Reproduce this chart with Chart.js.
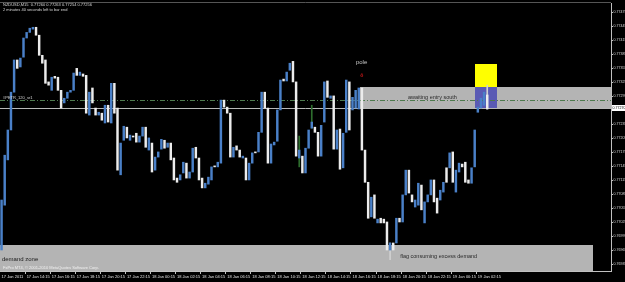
<!DOCTYPE html>
<html><head><meta charset="utf-8">
<script src="https://cdn.jsdelivr.net/npm/chart.js@4.4.1/dist/chart.umd.min.js"></script>
<style>html,body{margin:0;padding:0;background:#000;overflow:hidden}#wrap{width:625px;height:282px;position:relative}</style>
</head><body><div id="wrap"><canvas id="c" width="625" height="282"></canvas></div>
<script>
const timeLabels = ["17 Jan 2011","17 Jan 14:15","17 Jan 16:15","17 Jan 18:15","17 Jan 20:15","17 Jan 22:15","18 Jan 00:15","18 Jan 02:15","18 Jan 04:15","18 Jan 06:15","18 Jan 08:15","18 Jan 10:15","18 Jan 12:15","18 Jan 14:15","18 Jan 16:15","18 Jan 18:15","18 Jan 20:15","18 Jan 22:15","19 Jan 00:15","19 Jan 02:15"];
const priceTicks = [0.77475,0.77445,0.77415,0.77385,0.77355,0.77325,0.77295,0.77235,0.77205,0.77175,0.77145,0.77115,0.77085,0.77055,0.77025,0.76995,0.76965,0.76935];
const open = [
0.76966,0.77062,0.77159,0.77223,0.77304,0.77373,0.77358,0.77379,0.77420,0.77432,
0.77439,0.77443,0.77426,0.77383,0.77373,0.77326,0.77308,0.77338,0.77336,0.77308,
0.77281,0.77291,0.77304,0.77308,0.77355,0.77340,0.77343,0.77340,0.77255,0.77313,
0.77270,0.77255,0.77259,0.77238,0.77276,0.77238,0.77323,0.77270,0.77127,0.77201,
0.77229,0.77201,0.77210,0.77216,0.77197,0.77210,0.77229,0.77180,0.77195,0.77137,
0.77165,0.77182,0.77201,0.77186,0.77195,0.77163,0.77120,0.77116,0.77131,0.77152,
0.77120,0.77133,0.77186,0.77163,0.77120,0.77099,0.77107,0.77116,0.77146,0.77144,
0.77152,0.77287,0.77272,0.77259,0.77165,0.77189,0.77180,0.77163,0.77163,0.77116,
0.77152,0.77176,0.77176,0.77218,0.77304,0.77270,0.77152,0.77191,0.77199,0.77266,
0.77332,0.77328,0.77351,0.77370,0.77326,0.77163,0.77167,0.77131,0.77184,0.77227,
0.77229,0.77218,0.77167,0.77240,0.77328,0.77291,0.77296,0.77182,0.77225,0.77142,
0.77218,0.77326,0.77266,0.77270,0.77268,0.77313,0.77180,0.77111,0.77037,0.77084,
0.77024,0.77034,0.77032,0.77026,0.76966,0.76981,0.76981,0.77034,0.77026,0.77084,
0.77137,0.77084,0.77058,0.77062,0.77105,0.77024,0.77069,0.77084,0.77116,0.77077,
0.77073,0.77090,0.77142,0.77142,0.77176,0.77090,0.77133,0.77150,0.77154,0.77116,
0.77109,0.77144,0.77261,0.77270,0.77276,0.77298];
const close = [
0.77073,0.77169,0.77223,0.77304,0.77373,0.77355,0.77377,0.77420,0.77432,0.77441,
0.77443,0.77426,0.77383,0.77366,0.77323,0.77319,0.77336,0.77334,0.77308,0.77270,
0.77291,0.77304,0.77308,0.77345,0.77340,0.77347,0.77338,0.77259,0.77304,0.77281,
0.77255,0.77261,0.77244,0.77276,0.77240,0.77323,0.77259,0.77137,0.77195,0.77231,
0.77206,0.77212,0.77208,0.77197,0.77210,0.77229,0.77186,0.77206,0.77133,0.77165,
0.77176,0.77203,0.77184,0.77195,0.77159,0.77116,0.77111,0.77127,0.77154,0.77120,
0.77133,0.77184,0.77163,0.77116,0.77099,0.77109,0.77122,0.77144,0.77144,0.77154,
0.77287,0.77272,0.77259,0.77165,0.77186,0.77180,0.77165,0.77167,0.77116,0.77152,
0.77174,0.77174,0.77218,0.77304,0.77270,0.77152,0.77193,0.77197,0.77266,0.77330,
0.77328,0.77347,0.77366,0.77326,0.77167,0.77180,0.77131,0.77184,0.77223,0.77240,
0.77218,0.77167,0.77233,0.77326,0.77293,0.77296,0.77182,0.77223,0.77139,0.77216,
0.77330,0.77223,0.77293,0.77308,0.77313,0.77180,0.77111,0.77034,0.77079,0.77034,
0.77032,0.77024,0.77024,0.76966,0.76981,0.76966,0.77034,0.77026,0.77084,0.77137,
0.77088,0.77069,0.77073,0.77109,0.77052,0.77069,0.77084,0.77116,0.77069,0.77045,
0.77094,0.77111,0.77111,0.77174,0.77111,0.77137,0.77152,0.77144,0.77111,0.77109,
0.77142,0.77223,0.77272,0.77291,0.77304,0.77268];
// visible wicks: [bar index, high, low]
const wicks = [[95,0.77210,0.77144],[99,0.77276,0.77227],[124,0.76981,0.76945],[155,0.77319,0.77268]];
const greenWickBars = [95, 99];
const bidPrice = 0.77270;
const levelPrice = 0.77287;
const TOTAL_SLOTS = 195;
const LABEL_EVERY = 8;
const Y_MIN = 0.76921, Y_MAX = 0.77495;
const zones = [
  {from:-0.6, to:188.8, top:0.76977, bottom:0.76900, color:'#b4b4b4'},
  {from:114.4, to:200, top:0.77315, bottom:0.77268, color:'#b4b4b4'},
  {from:151.1, to:158.1, top:0.77364, bottom:0.77315, color:'#ffff00'},
  {from:151.1, to:158.1, top:0.77315, bottom:0.77268, color:'#5a5ab4'}
];
const notes = [
  {text:'pole', at:113.1, price:0.77368, color:'#c8c8c8', size:6},
  {text:'awaiting entry south', at:129.7, price:0.77293, color:'#2a2a2a', size:5.5},
  {text:'flag consuming excess demand', at:127.2, price:0.76953, color:'#2a2a2a', size:5.5},
  {text:'demand zone', at:0.1, price:0.76947, color:'#1a1a1a', size:6}
];

const cats = [];
for (let i = 0; i < TOTAL_SLOTS; i++) {
  const k = i / LABEL_EVERY;
  cats.push(i % LABEL_EVERY === 0 && k < timeLabels.length ? timeLabels[k] : '');
}
const BLUE = '#4a80c8', WHITE = '#ececec';
const bodies = open.map((o, i) => [o, close[i]]);
const bodyColors = open.map((o, i) => close[i] >= o ? BLUE : WHITE);
const wickData = open.map(() => null);
const wickColors = open.map(() => '#d0d0d0');
wicks.forEach(([i, h, l]) => { wickData[i] = [l, h]; });
greenWickBars.forEach(i => { wickColors[i] = '#2e6e2e'; });

const FONT = 'Liberation Sans, Arial, sans-serif';
const objPlugin = {
  id: 'mt4obj',
  beforeDraw(chart) {
    const {ctx} = chart;
    ctx.save();
    ctx.fillStyle = '#000';
    ctx.fillRect(0, 0, chart.width, chart.height);
    ctx.restore();
  },
  beforeDatasetsDraw(chart) {
    const {ctx, chartArea: a, scales: {x, y}} = chart;
    ctx.save();
    ctx.beginPath(); ctx.rect(a.left, a.top, a.right - a.left, a.bottom - a.top); ctx.clip();
    zones.forEach(z => {
      const x0 = Math.max(a.left, x.getPixelForValue(z.from));
      const x1 = Math.min(a.right, x.getPixelForValue(z.to));
      const y0 = y.getPixelForValue(z.top), y1 = Math.min(a.bottom, y.getPixelForValue(z.bottom));
      ctx.fillStyle = z.color;
      ctx.fillRect(Math.round(x0), Math.round(y0), Math.round(x1 - x0), Math.round(y1 - y0));
    });
    const yl = Math.round(y.getPixelForValue(levelPrice)) + 0.5;
    ctx.strokeStyle = '#4e7a4e'; ctx.lineWidth = 1; ctx.setLineDash([5, 2, 1, 2]);
    ctx.beginPath(); ctx.moveTo(a.left, yl); ctx.lineTo(a.right, yl); ctx.stroke();
    ctx.setLineDash([]);
    const yb = Math.round(y.getPixelForValue(bidPrice)) + 0.5;
    ctx.strokeStyle = '#b8b8b8';
    ctx.beginPath(); ctx.moveTo(a.left, yb); ctx.lineTo(a.right, yb); ctx.stroke();
    ctx.restore();
  },
  afterDatasetsDraw(chart) {
    const {ctx, chartArea: a, scales: {x, y}} = chart;
    ctx.save();
    ctx.textBaseline = 'middle';
    notes.forEach(n => {
      ctx.font = n.size + 'px ' + FONT;
      ctx.fillStyle = n.color;
      ctx.fillText(n.text, x.getPixelForValue(n.at), y.getPixelForValue(n.price));
    });
    ctx.fillStyle = '#d01818';
    ctx.font = 'bold 5px ' + FONT;
    ctx.fillText('ô', x.getPixelForValue(114.5), y.getPixelForValue(0.77340));
    ctx.font = '4px ' + FONT;
    ctx.fillStyle = '#d8d8d8';
    ctx.textBaseline = 'top';
    ctx.fillText('NZDUSD,M15  0.77260 0.77263 0.77254 0.77256', 3, 3);
    ctx.fillText('2 minutes 40 seconds left to bar end', 3, 8);
    ctx.textBaseline = 'middle';
    ctx.fillText('#PETR_120_sr1', 3, y.getPixelForValue(levelPrice) - 2);
    ctx.fillStyle = '#f0f0f0';
    ctx.fillText('FxPro MT4, © 2001-2010 MetaQuotes Software Corp.', 3, a.bottom - 3);
    ctx.strokeStyle = '#555'; ctx.lineWidth = 1;
    ctx.beginPath(); ctx.moveTo(a.left, a.top - 0.5); ctx.lineTo(a.right, a.top - 0.5); ctx.stroke();
    const yb = y.getPixelForValue(bidPrice);
    ctx.fillStyle = '#ffffff';
    ctx.fillRect(a.right + 1, Math.round(yb) - 3, 14, 6);
    ctx.fillStyle = '#000';
    ctx.font = '3.6px ' + FONT;
    ctx.fillText(bidPrice.toFixed(5), a.right + 1.5, yb);
    ctx.restore();
  }
};

new Chart(document.getElementById('c'), {
  type: 'bar',
  data: {
    labels: cats,
    datasets: [{
      data: bodies,
      backgroundColor: bodyColors,
      borderWidth: 0,
      barThickness: 1.8,
      minBarLength: 1,
      grouped: false
    }, {
      data: wickData,
      backgroundColor: wickColors,
      borderWidth: 0,
      barThickness: 1,
      grouped: false
    }]
  },
  options: {
    responsive: false,
    devicePixelRatio: 1,
    animation: false,
    layout: {padding: {top: 3, left: 0, right: 0, bottom: 0}},
    plugins: {legend: {display: false}, tooltip: {enabled: false}},
    scales: {
      x: {
        type: 'category',
        offset: true,
        afterFit: s => { s.height = 11; },
        grid: {drawOnChartArea: false, drawTicks: true, tickLength: 3,
               tickColor: c => (c.tick && c.tick.label) ? '#c0c0c0' : 'rgba(0,0,0,0)'},
        border: {display: true, color: '#c0c0c0'},
        ticks: {autoSkip: false, maxRotation: 0, minRotation: 0, align: 'start', padding: 0,
                color: '#e0e0e0', font: {size: 4, family: FONT},
                callback: (v, i) => cats[i]}
      },
      y: {
        position: 'right',
        min: Y_MIN, max: Y_MAX,
        afterFit: s => { s.width = 14; },
        afterBuildTicks: s => { s.ticks = priceTicks.map(v => ({value: v})); },
        grid: {drawOnChartArea: false, tickLength: 2, tickColor: '#c0c0c0'},
        border: {display: true, color: '#c0c0c0'},
        ticks: {padding: 0.5, color: '#d8d8d8', font: {size: 3.6, family: FONT},
                callback: v => Number(v).toFixed(5)}
      }
    }
  },
  plugins: [objPlugin]
});
</script>
</body></html>
